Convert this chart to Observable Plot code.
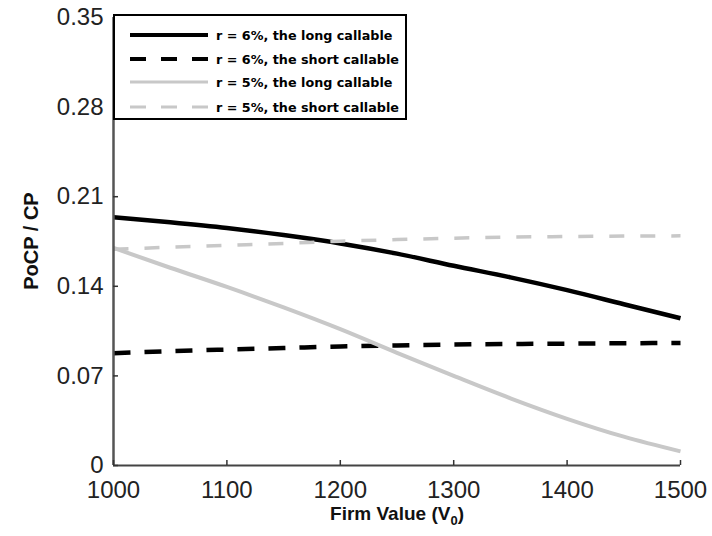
<!DOCTYPE html>
<html>
<head>
<meta charset="utf-8">
<script src="https://cdn.jsdelivr.net/npm/d3@7"></script>
<script src="https://cdn.jsdelivr.net/npm/@observablehq/plot@0.6"></script>
<style>
  html, body { margin: 0; padding: 0; background: #fff; }
  #wrap { position: relative; width: 712px; height: 536px; overflow: hidden; }
  #legend { position: absolute; left: 113px; top: 14px; width: 290px; height: 102px;
    border: 2px solid #000; background: #fff; box-sizing: content-box; }
  .row { position: absolute; left: 15px; height: 20px; display: flex; align-items: center; }
  .row span { font-family: "DejaVu Sans"; font-weight: bold; font-size: 12.75px; margin-left: 8px; color: #000; white-space: nowrap; }
  #xlabel { position: absolute; left: 0; width: 794px; top: 503px; text-align: center;
    font-family: "Liberation Sans"; font-weight: bold; font-size: 19px; color: #111; }
  #xlabel sub { font-size: 13px; vertical-align: -5px; line-height: 0; }
  #ylabel { position: absolute; left: 31px; top: 241px; transform: translate(-50%, -50%) rotate(-90deg);
    font-family: "Liberation Sans"; font-weight: bold; font-size: 20px; color: #111; white-space: nowrap; }
</style>
</head>
<body>
<div id="wrap"></div>
<script>
// Firm value (V0)
const firmValue = [1000, 1050, 1100, 1150, 1200, 1250, 1300, 1350, 1400, 1450, 1500];
// PoCP / CP
const r6Long  = [0.194, 0.190, 0.1855, 0.180, 0.1735, 0.1655, 0.156, 0.147, 0.137, 0.126, 0.115];
const r6Short = [0.0877, 0.0893, 0.0906, 0.0918, 0.093, 0.0938, 0.0945, 0.0949, 0.0952, 0.0955, 0.0957];
const r5Long  = [0.170, 0.1545, 0.1395, 0.1235, 0.1065, 0.088, 0.070, 0.0525, 0.0365, 0.0225, 0.011];
const r5Short = [0.169, 0.1705, 0.172, 0.1735, 0.1752, 0.1765, 0.1776, 0.1784, 0.1789, 0.1792, 0.1794];
const seriesNames = ["r = 6%, the long callable", "r = 6%, the short callable", "r = 5%, the long callable", "r = 5%, the short callable"];
const xTicks = [1000, 1100, 1200, 1300, 1400, 1500];
const yTicks = [0, 0.07, 0.14, 0.21, 0.28, 0.35];
const yTickLabels = ["0", "0.07", "0.14", "0.21", "0.28", "0.35"];

const W = 712, H = 536, ML = 113, MR = 32, MT = 17, MB = 71;
const xDomain = [1000, 1500], yDomain = [0, 0.35];
const tickPx = 5;
// inward tick length converted to data units so the ticks go through the scales
const xTickLen = tickPx * (xDomain[1] - xDomain[0]) / (W - ML - MR);
const yTickLen = tickPx * (yDomain[1] - yDomain[0]) / (H - MT - MB);
const xTickRules = xTicks.map(v => ({x: v, y1: yDomain[0], y2: yDomain[0] + yTickLen}));
const yTickRules = yTicks.map(v => ({y: v, x1: xDomain[0], x2: xDomain[0] + xTickLen}));

const styles = [
  {stroke: "#000", strokeWidth: 4.5, dash: null},
  {stroke: "#000", strokeWidth: 4.5, dash: "17,14"},
  {stroke: "#c8c8c8", strokeWidth: 4, dash: null},
  {stroke: "#c8c8c8", strokeWidth: 3.5, dash: "15,16"}
];
const valueArrays = [r6Long, r6Short, r5Long, r5Short];
const tables = valueArrays.map((vals, s) => firmValue.map((x, i) => ({x, y: vals[i], series: seriesNames[s]})));

const plot = Plot.plot({
  width: W,
  height: H,
  marginLeft: ML,
  marginRight: MR,
  marginTop: MT,
  marginBottom: MB,
  style: {fontFamily: "Liberation Sans", fontSize: "24px", color: "#222", background: "#fff"},
  x: {domain: xDomain},
  y: {domain: yDomain},
  marks: [
    ...tables.map((t, s) => Plot.line(t, {x: "x", y: "y", curve: "monotone-x", stroke: styles[s].stroke, strokeWidth: styles[s].strokeWidth,
      strokeDasharray: styles[s].dash, strokeLinecap: "butt"})),
    Plot.ruleY([0], {stroke: "#444", strokeWidth: 2}),
    Plot.ruleX([1000], {stroke: "#555", strokeWidth: 2.5}),
    Plot.ruleX(xTickRules, {x: "x", y1: "y1", y2: "y2", stroke: "#333", strokeWidth: 1.5}),
    Plot.ruleY(yTickRules, {y: "y", x1: "x1", x2: "x2", stroke: "#333", strokeWidth: 1.5}),
    Plot.axisX({ticks: xTicks, tickSize: 0, tickPadding: 15, tickFormat: d => String(d), label: null}),
    Plot.axisY({ticks: yTicks, tickSize: 0, tickPadding: 10, tickFormat: d => yTickLabels[yTicks.indexOf(d)], label: null})
  ]
});

const wrap = document.getElementById("wrap");
wrap.appendChild(plot);

// legend
const legend = document.createElement("div");
legend.id = "legend";
const rowTops = [9, 33, 56, 81];
seriesNames.forEach((name, s) => {
  const row = document.createElement("div");
  row.className = "row";
  row.style.top = rowTops[s] + "px";
  const ns = "http://www.w3.org/2000/svg";
  const svg = document.createElementNS(ns, "svg");
  svg.setAttribute("width", 78);
  svg.setAttribute("height", 20);
  const ln = document.createElementNS(ns, "line");
  ln.setAttribute("x1", 0); ln.setAttribute("x2", 78);
  ln.setAttribute("y1", 10); ln.setAttribute("y2", 10);
  ln.setAttribute("stroke", styles[s].stroke);
  ln.setAttribute("stroke-width", s < 2 ? 4 : 3);
  if (styles[s].dash) ln.setAttribute("stroke-dasharray", "16,15");
  svg.appendChild(ln);
  row.appendChild(svg);
  const sp = document.createElement("span");
  sp.textContent = name;
  row.appendChild(sp);
  legend.appendChild(row);
});
wrap.appendChild(legend);

const xl = document.createElement("div");
xl.id = "xlabel";
xl.innerHTML = "Firm Value (V<sub>0</sub>)";
wrap.appendChild(xl);

const yl = document.createElement("div");
yl.id = "ylabel";
yl.textContent = "PoCP / CP";
wrap.appendChild(yl);
</script>
</body>
</html>
